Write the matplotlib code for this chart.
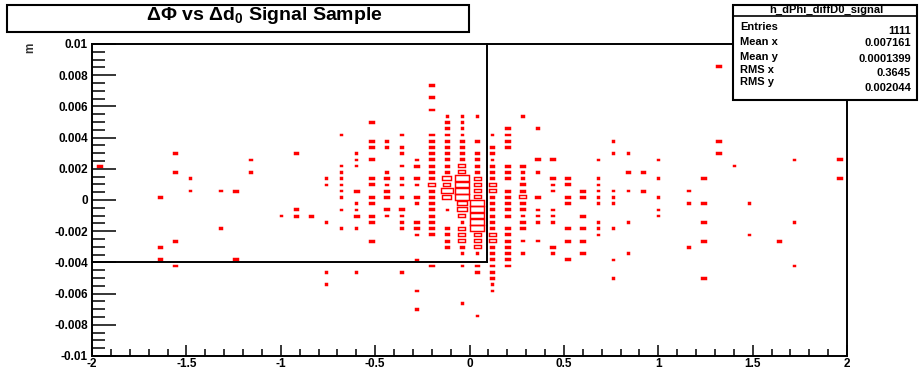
import matplotlib
matplotlib.use('Agg')
import matplotlib.pyplot as plt
import numpy as np
from matplotlib.patches import Rectangle
from matplotlib.ticker import MultipleLocator, FormatStrFormatter

plt.rcParams['font.family'] = ['Liberation Sans', 'DejaVu Sans']
plt.rcParams['font.weight'] = 'bold'
plt.rcParams['mathtext.fontset'] = 'custom'
plt.rcParams['mathtext.rm'] = 'Liberation Sans:bold'
plt.rcParams['mathtext.bf'] = 'Liberation Sans:bold'
plt.rcParams['mathtext.default'] = 'bf'

# 50 x 50 bins, x in [-2, 2], y in [-0.01, 0.01]
x_edges = np.linspace(-2, 2, 51)
y_edges = np.linspace(-0.01, 0.01, 51)

# bin contents: x bin index, y bin index (row counted from the top), entries
col = [0,
       4, 4, 4,
       5, 5, 5, 5,
       6, 6, 8, 8, 9, 9, 10, 10, 12,
       13, 13, 13, 14,
       15, 15, 15, 15, 15,
       16, 16, 16, 16, 16, 16, 16, 16, 16,
       17, 17, 17, 17, 17, 17, 17, 17, 17,
       18, 18, 18, 18, 18, 18, 18, 18, 18, 18, 18,
       19, 19, 19, 19, 19, 19, 19, 19, 19,
       20, 20, 20, 20, 20, 20, 20, 20, 20, 20, 20, 20,
       21, 21, 21, 21, 21, 21, 21, 21, 21, 21, 21, 21,
       22, 22, 22, 22, 22, 22, 22, 22, 22, 22, 22, 22, 22, 22, 22, 22, 22, 22, 22, 22, 22,
       23, 23, 23, 23, 23, 23, 23, 23, 23, 23, 23, 23, 23, 23, 23, 23, 23, 23, 23,
       24, 24, 24, 24, 24, 24, 24, 24, 24, 24, 24, 24, 24, 24, 24, 24, 24, 24, 24, 24, 24, 24, 24, 24, 24,
       25, 25, 25, 25, 25, 25, 25, 25, 25, 25, 25, 25, 25, 25, 25, 25, 25, 25, 25, 25, 25, 25,
       26, 26, 26, 26, 26, 26, 26, 26, 26, 26, 26, 26, 26, 26, 26, 26, 26, 26, 26, 26, 26, 26, 26, 26, 26,
       27, 27, 27, 27, 27, 27, 27, 27, 27, 27, 27, 27, 27, 27, 27, 27, 27, 27, 27,
       28, 28, 28, 28, 28, 28, 28, 28, 28, 28, 28, 28, 28, 28,
       29, 29, 29, 29, 29, 29, 29, 29,
       30, 30, 30, 30, 30, 30, 30, 30, 30,
       31, 31, 31, 31, 31, 31, 31,
       32, 32, 32, 32, 32, 32,
       33, 33, 33, 33, 33, 33, 33, 33, 33,
       34, 34, 34, 34, 34, 34, 34, 34,
       35, 35, 35, 35, 35,
       36, 36,
       37, 37, 37, 37, 37,
       39, 39, 39,
       40, 40, 40, 40, 40,
       41, 41, 41,
       42, 43, 43, 45,
       46, 46, 46,
       49, 49]
row = [19,
       24, 32, 34,
       17, 20, 31, 35,
       21, 23, 23, 29, 23, 34, 18, 20, 27,
       17, 26, 27, 27,
       21, 22, 28, 36, 38,
       14, 19, 20, 21, 22, 23, 24, 26, 29,
       17, 18, 19, 23, 25, 26, 27, 29, 36,
       12, 15, 16, 18, 21, 22, 24, 25, 27, 28, 31,
       15, 16, 20, 21, 22, 23, 24, 26, 27,
       14, 16, 17, 19, 21, 22, 24, 26, 27, 28, 29, 36,
       18, 19, 21, 22, 24, 25, 28, 29, 30, 34, 39, 42,
       6, 8, 10, 14, 15, 16, 17, 18, 19, 20, 21, 22, 23, 24, 25, 26, 27, 28, 29, 30, 35,
       11, 12, 13, 14, 15, 16, 17, 18, 19, 20, 21, 22, 23, 24, 29, 30, 31, 32, 26,
       11, 12, 13, 14, 15, 16, 17, 18, 19, 20, 21, 22, 23, 24, 25, 26, 27, 28, 29, 30, 31, 32, 33, 35, 41,
       11, 15, 17, 18, 19, 20, 21, 22, 23, 24, 25, 26, 27, 28, 29, 30, 31, 32, 33, 35, 36, 43,
       14, 16, 17, 18, 19, 20, 21, 22, 23, 24, 25, 26, 27, 28, 29, 30, 31, 32, 33, 34, 35, 36, 37, 38, 39,
       13, 14, 15, 16, 19, 20, 21, 23, 24, 25, 26, 27, 29, 30, 31, 32, 33, 34, 35,
       11, 19, 20, 21, 22, 23, 24, 25, 26, 27, 28, 29, 31, 33,
       13, 18, 20, 24, 26, 27, 28, 31,
       18, 21, 22, 23, 26, 27, 28, 32, 33,
       21, 22, 24, 25, 29, 31, 34,
       23, 24, 27, 29, 31, 33,
       18, 21, 22, 23, 24, 25, 28, 29, 30,
       15, 17, 23, 24, 25, 29, 34, 37,
       17, 20, 23, 28, 33,
       20, 23,
       18, 21, 24, 26, 27,
       23, 25, 32,
       21, 25, 28, 31, 37,
       3, 15, 17,
       19, 25, 30, 31,
       18, 28, 35,
       18, 21]
entries = [2,
           2, 2, 2,
           2, 2, 2, 2,
           1, 1, 1, 1, 2, 2, 1, 1, 1,
           2, 2, 2, 2,
           1, 1, 1, 1, 1,
           1, 1, 1, 1, 1, 1, 1, 1, 1,
           1, 1, 1, 2, 1, 1, 2, 1, 1,
           2, 2, 2, 2, 2, 2, 2, 2, 2, 2, 2,
           1, 1, 1, 2, 1, 2, 2, 2, 1,
           1, 1, 1, 1, 1, 1, 1, 2, 1, 1, 1, 1,
           1, 2, 2, 1, 2, 1, 2, 2, 1, 1, 1, 1,
           2, 2, 2, 2, 2, 2, 2, 2, 2, 2, 2, 3, 2, 2, 2, 2, 2, 2, 2, 2, 2,
           1, 2, 2, 2, 2, 2, 2, 2, 2, 2, 4, 3, 5, 4, 2, 2, 2, 2, 1,
           1, 1, 1, 1, 2, 2, 2, 2, 3, 3, 6, 6, 6, 6, 4, 4, 3, 1, 3, 3, 3, 2, 1, 1, 1,
           1, 2, 2, 2, 2, 2, 3, 3, 3, 3, 6, 6, 6, 6, 6, 3, 3, 3, 1, 2, 2, 1,
           1, 2, 2, 1, 2, 2, 2, 3, 3, 2, 2, 2, 2, 2, 2, 3, 3, 2, 2, 2, 2, 2, 2, 1, 1,
           2, 2, 2, 2, 2, 2, 2, 2, 2, 2, 2, 2, 2, 2, 2, 2, 2, 2, 2,
           1, 2, 1, 1, 2, 2, 3, 2, 2, 1, 2, 2, 1, 1,
           1, 2, 1, 2, 1, 1, 1, 1,
           2, 2, 1, 1, 1, 1, 1, 2, 1,
           2, 2, 2, 2, 2, 2, 2,
           2, 2, 2, 2, 2, 2,
           1, 1, 1, 1, 1, 1, 1, 1, 1,
           1, 1, 1, 1, 1, 1, 1, 1,
           1, 2, 1, 1, 1,
           2, 2,
           1, 1, 1, 1, 1,
           1, 1, 1,
           2, 2, 2, 2, 2,
           2, 2, 2,
           1, 1, 1, 2,
           1, 1, 1,
           2, 2]

stats_labels = ['Entries', 'Mean x', 'Mean y', 'RMS x', 'RMS y']
stats_values = ['1111', '0.007161', '0.0001399', '0.3645', '0.002044']

W, H = 919, 376
fig = plt.figure(figsize=(W / 100, H / 100), dpi=100)


def fx(px):
    return px / W


def fy(py):
    return 1 - py / H


ax = fig.add_axes([fx(92), fy(356), fx(847) - fx(92), fy(44) - fy(356)])
ax.set_xlim(-2, 2)
ax.set_ylim(-0.01, 0.01)

# ROOT style boxes: size proportional to bin content
xc = 0.5 * (x_edges[:-1] + x_edges[1:])
yc = 0.5 * (y_edges[:-1] + y_edges[1:])[::-1]
bw = x_edges[1] - x_edges[0]
bh = y_edges[1] - y_edges[0]
cmax = 6.5
for i, j, n in zip(col, row, entries):
    f = min(n / cmax, 0.92)
    w, h = bw * f, bh * max(f, 0.25)
    ax.add_patch(Rectangle((xc[i] - w / 2, yc[j] - h / 2), w, h,
                           facecolor='red' if n <= 2 else 'none',
                           edgecolor='red', linewidth=1.05))

# extra frame lines
ax.plot([-2, 0.093], [-0.004, -0.004], color='black', lw=1.4, clip_on=False)
ax.plot([0.093, 0.093], [-0.004, 0.01], color='black', lw=1.4, clip_on=False)

for s in ax.spines.values():
    s.set_linewidth(1.4)

ax.xaxis.set_major_locator(MultipleLocator(0.5))
ax.xaxis.set_minor_locator(MultipleLocator(0.1))
ax.yaxis.set_major_locator(MultipleLocator(0.002))
ax.yaxis.set_minor_locator(MultipleLocator(0.0005))
ax.xaxis.set_major_formatter(FormatStrFormatter('%g'))
ax.yaxis.set_major_formatter(FormatStrFormatter('%g'))
ax.tick_params(axis='y', which='major', direction='in', length=17, width=1.1, pad=3, labelsize=8.5)
ax.tick_params(axis='y', which='minor', direction='in', length=9.5, width=1.1)
ax.tick_params(axis='x', which='major', direction='in', length=8, width=1.1, pad=1.5, labelsize=8.5)
ax.tick_params(axis='x', which='minor', direction='in', length=5, width=1.1)

fig.text(fx(30), fy(48), 'm', rotation=90, ha='center', va='center', fontsize=8.5, color='#333333')

# title box
fig.add_artist(Rectangle((fx(7), fy(32)), fx(469) - fx(7), fy(5) - fy(32),
                         transform=fig.transFigure, facecolor='white', edgecolor='black', lw=1.5))
fig.text(fx(264), fy(15), r'ΔΦ vs Δd$_0$ Signal Sample', ha='center', va='center', fontsize=14)

# stats box
fig.add_artist(Rectangle((fx(733), fy(100)), fx(917) - fx(733), fy(5) - fy(100),
                         transform=fig.transFigure, facecolor='white', edgecolor='black', lw=1.5, zorder=5))
fig.add_artist(plt.Line2D([fx(733), fx(917)], [fy(16), fy(16)], transform=fig.transFigure,
                          color='black', lw=1.2, zorder=6))
fig.text(fx(826), fy(10), 'h_dPhi_diffD0_signal', ha='center', va='center', fontsize=8, zorder=7)
label_y = [27, 42, 57, 70, 82]
value_y = [31, 43, 59, 73, 88]
for lab, val, ly, vy in zip(stats_labels, stats_values, label_y, value_y):
    fig.text(fx(740), fy(ly), lab, ha='left', va='center', fontsize=8, zorder=7)
    fig.text(fx(911), fy(vy), val, ha='right', va='center', fontsize=8, zorder=7)

fig.savefig('out.png', dpi=100)
